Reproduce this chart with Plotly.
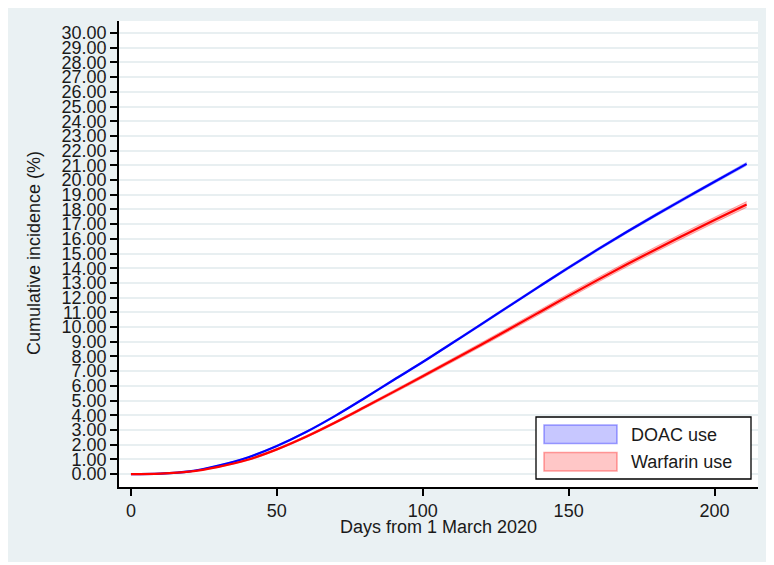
import plotly.graph_objects as go

# ---------------- data ----------------
days = [0, 10, 20, 30, 40, 50, 60, 70, 80, 90, 100, 110, 120, 130, 140, 150,
        160, 170, 180, 190, 200, 211]
doac = [0.00, 0.03, 0.18, 0.58, 1.13, 1.91, 2.86, 3.96, 5.16, 6.40, 7.62, 8.90,
        10.18, 11.48, 12.77, 14.04, 15.28, 16.48, 17.64, 18.77, 19.88, 21.10]
warfarin = [0.00, 0.03, 0.16, 0.49, 0.97, 1.68, 2.54, 3.51, 4.54, 5.59, 6.65, 7.72,
            8.80, 9.90, 11.01, 12.12, 13.21, 14.27, 15.30, 16.30, 17.28, 18.34]
doac_ci = [0.00, 0.01, 0.02, 0.03, 0.04, 0.05, 0.05, 0.06, 0.06, 0.07, 0.07, 0.07,
           0.08, 0.08, 0.08, 0.09, 0.09, 0.09, 0.10, 0.10, 0.10, 0.11]
warfarin_ci = [0.00, 0.01, 0.02, 0.03, 0.05, 0.06, 0.07, 0.08, 0.09, 0.10, 0.11, 0.12,
               0.13, 0.14, 0.15, 0.16, 0.16, 0.17, 0.18, 0.19, 0.19, 0.20]
x_ticks = [0, 50, 100, 150, 200]
y_ticks = list(range(0, 31))
series_names = ["DOAC use", "Warfarin use"]
x_title = "Days from 1 March 2020"
y_title = "Cumulative incidence (%)"

# ---------------- layout geometry ----------------
# The page places the figure 8 px from the top-left corner, so the figure is
# sized to the remaining window and reference pixel positions are shifted.
OFF = 8
W, H = 774 - OFF, 565 - OFF
L, R, T, B = 119 - OFF, 758 - OFF, 21 - OFF, 487 - OFF


def px(x):
    """reference page pixel x -> paper x"""
    return (x - OFF - L) / (R - L)


def py(y):
    """reference page pixel y -> paper y"""
    return (B - (y - OFF)) / (B - T)


FONT = "Liberation Sans, Arial, Helvetica, sans-serif"
FS = 18
TXT = "#1a1a1a"
PANEL = "#eaf1f3"
GRID = "#e8eff1"

fig = go.Figure()

styles = [
    (doac, doac_ci, "rgba(0,0,255,0.22)", "rgba(0,0,255,0.30)", "#0000ff"),
    (warfarin, warfarin_ci, "rgba(255,0,0,0.25)", "rgba(255,0,0,0.35)", "#ff0000"),
]

# confidence bands
for vals, ci, fillc, edgec, _ in styles:
    lower = [v - c for v, c in zip(vals, ci)]
    upper = [v + c for v, c in zip(vals, ci)]
    fig.add_trace(go.Scatter(x=days, y=lower, mode="lines",
                             line=dict(width=0.8, color=edgec, shape="spline"),
                             showlegend=False, hoverinfo="skip"))
    fig.add_trace(go.Scatter(x=days, y=upper, mode="lines", fill="tonexty",
                             fillcolor=fillc,
                             line=dict(width=0.8, color=edgec, shape="spline"),
                             showlegend=False, hoverinfo="skip"))

# estimate lines
for (vals, ci, fillc, edgec, linec), name in zip(styles, series_names):
    fig.add_trace(go.Scatter(x=days, y=vals, mode="lines", name=name,
                             line=dict(width=2.2, color=linec, shape="spline"),
                             showlegend=False))

shapes = [
    # grey graph region
    dict(type="rect", xref="paper", yref="paper", layer="below",
         x0=px(OFF), x1=px(774), y0=py(562), y1=py(OFF),
         fillcolor=PANEL, line=dict(width=0)),
    # white plot region
    dict(type="rect", xref="paper", yref="paper", layer="below",
         x0=0, x1=1, y0=0, y1=1, fillcolor="white", line=dict(width=0)),
    # legend box
    dict(type="rect", xref="paper", yref="paper", layer="above",
         x0=px(536), x1=px(751), y0=py(479), y1=py(417),
         fillcolor="white", line=dict(color="black", width=1.3)),
    dict(type="rect", xref="paper", yref="paper", layer="above",
         x0=px(544), x1=px(617), y0=py(443.5), y1=py(425),
         fillcolor="rgba(0,0,255,0.22)", line=dict(color="rgba(0,0,255,0.35)", width=1.5)),
    dict(type="rect", xref="paper", yref="paper", layer="above",
         x0=px(544), x1=px(617), y0=py(471), y1=py(452.5),
         fillcolor="rgba(255,0,0,0.22)", line=dict(color="rgba(255,0,0,0.35)", width=1.5)),
]

annotations = [
    dict(text=series_names[0], xref="paper", yref="paper", x=px(629), y=py(435),
         xanchor="left", yanchor="middle", showarrow=False,
         font=dict(family=FONT, size=FS, color=TXT)),
    dict(text=series_names[1], xref="paper", yref="paper", x=px(629), y=py(462),
         xanchor="left", yanchor="middle", showarrow=False,
         font=dict(family=FONT, size=FS, color=TXT)),
    dict(text=x_title, xref="paper", yref="paper", x=px(438.5), y=py(527),
         xanchor="center", yanchor="middle", showarrow=False,
         font=dict(family=FONT, size=FS, color=TXT)),
    dict(text=y_title, xref="paper", yref="paper", x=px(34), y=py(253),
         xanchor="center", yanchor="middle", showarrow=False, textangle=-90,
         font=dict(family=FONT, size=FS, color=TXT)),
]

fig.update_layout(
    width=W, height=H, autosize=False,
    margin=dict(l=L, r=W - R, t=T, b=H - B, pad=0),
    paper_bgcolor="white", plot_bgcolor="white",
    font=dict(family=FONT, size=FS, color=TXT),
    showlegend=False,
    shapes=shapes,
    annotations=annotations,
    xaxis=dict(range=[-4.1, 214.9], tickmode="array", tickvals=x_ticks,
               ticks="outside", ticklen=7, tickwidth=1.5, tickcolor="black",
               showline=True, linecolor="black", linewidth=1.6,
               showgrid=False, zeroline=False,
               tickfont=dict(family=FONT, size=FS, color=TXT)),
    yaxis=dict(range=[-0.88, 30.82], tickmode="array", tickvals=y_ticks,
               ticktext=["%.2f" % v for v in y_ticks],
               ticks="outside", ticklen=7, tickwidth=1.5, tickcolor="black",
               showline=True, linecolor="black", linewidth=1.6,
               showgrid=True, gridcolor=GRID, gridwidth=1.6,
               zeroline=False,
               tickfont=dict(family=FONT, size=FS, color=TXT)),
)

fig.write_html("out.html")
